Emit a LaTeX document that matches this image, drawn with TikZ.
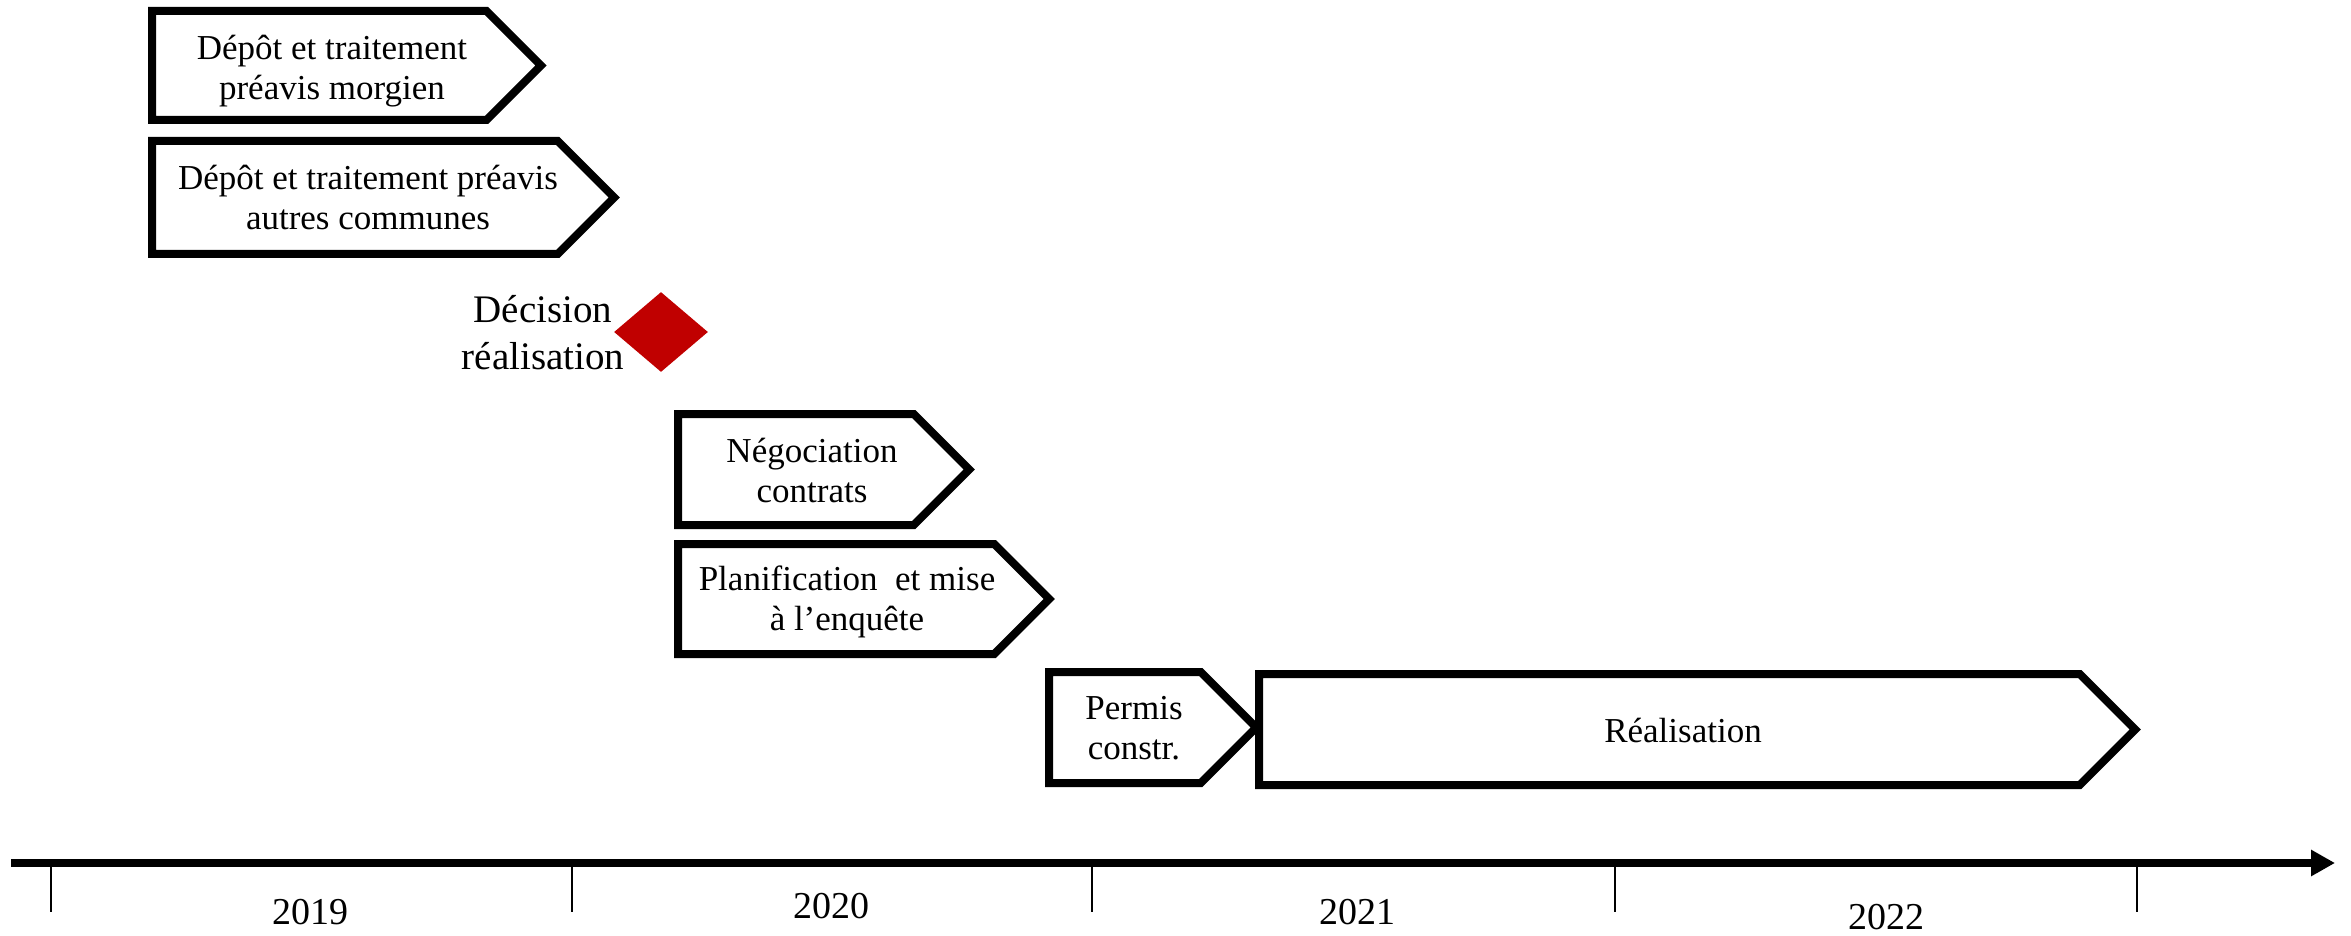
\documentclass[tikz,border=0pt]{standalone}
\usepackage{fontspec}
\setmainfont{Liberation Serif}
\usetikzlibrary{arrows.meta,shapes.geometric}
\definecolor{decred}{HTML}{C00000}
\tikzset{
  chevbox/.style={draw=black, line width=4pt, line join=miter, fill=white},
  boxtext/.style={font=\fontsize{17.5}{20}\selectfont, align=center, inner sep=0pt},
  yeartext/.style={font=\fontsize{19}{22}\selectfont, inner sep=0pt},
  labeltext/.style={font=\fontsize{19.5}{23.5}\selectfont, align=center, inner sep=0pt},
  tickline/.style={line width=1pt},
  axisline/.style={line width=4pt, -{Triangle[length=12pt,width=12.5pt]}},
}
\begin{document}
\begin{tikzpicture}[x=0.5pt, y=-0.5pt]
\useasboundingbox (0,0) rectangle (2351,936);

% chevron boxes
\draw[chevbox] (152,11) -- (486.5,11) -- (541,65.5) -- (486.5,120) -- (152,120) -- cycle;
\node[boxtext] (b1) at (332,71) {Dépôt et traitement\\préavis morgien};

\draw[chevbox] (152,141) -- (557.8,141) -- (614.3,197.5) -- (557.8,254) -- (152,254) -- cycle;
\node[boxtext] (b2) at (368,197.5) {Dépôt et traitement préavis\\autres communes};

\draw[chevbox] (678,414) -- (913.8,414) -- (969.3,469.5) -- (913.8,525) -- (678,525) -- cycle;
\node[boxtext] (b3) at (812,470.5) {Négociation\\contrats};

\draw[chevbox] (678,544) -- (994.3,544) -- (1049.3,599) -- (994.3,654) -- (678,654) -- cycle;
\node[boxtext] (b4) at (847,602) {Planification\ \ et mise\\à l’enquête};

\draw[chevbox] (1259,674) -- (2079.8,674) -- (2135.3,729.5) -- (2079.8,785) -- (1259,785) -- cycle;
\node[boxtext] (b6) at (1683,730) {Réalisation};

\draw[chevbox] (1049,672) -- (1200.8,672) -- (1256.3,727.5) -- (1200.8,783) -- (1049,783) -- cycle;
\node[boxtext] (b5) at (1134,728.5) {Permis\\constr.};

% decision milestone
\node[diamond, fill=decred, minimum width=47pt, minimum height=40pt, inner sep=0pt] (dec) at (661,332) {};
\node[labeltext] (declabel) at (543,333) {Décision\\réalisation};

% time axis
\coordinate (axstart) at (11,863);
\coordinate (axend) at (2335,863);
\draw[axisline] (axstart) -- (axend);
\foreach \tx in {51,572,1092,1615,2137} {
  \draw[tickline] (\tx,863) -- (\tx,912);
}
\node[yeartext] (y2019) at (310,912) {2019};
\node[yeartext] (y2020) at (831,906) {2020};
\node[yeartext] (y2021) at (1357,912) {2021};
\node[yeartext] (y2022) at (1886,917) {2022};
\end{tikzpicture}
\end{document}
